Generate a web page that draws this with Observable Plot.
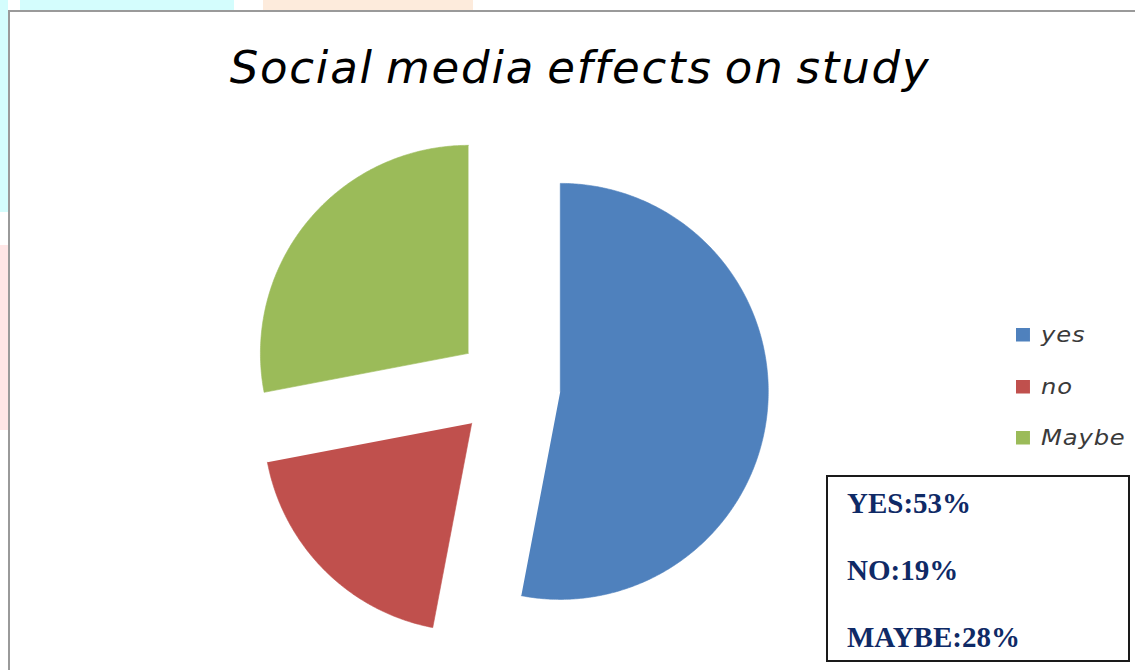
<!DOCTYPE html>
<html>
<head>
<meta charset="utf-8">
<script src="https://cdn.jsdelivr.net/npm/d3@7"></script>
<script src="https://cdn.jsdelivr.net/npm/@observablehq/plot@0.6"></script>
<style>
  html, body { margin: 0; padding: 0; background: #fff; }
  #page { position: relative; width: 1135px; height: 670px; overflow: hidden; background: #fff; }
  .bg { position: absolute; }
  #frame { position: absolute; left: 8px; top: 10px; width: 1140px; height: 680px;
           border-top: 2px solid #9a9a9a; border-left: 2px solid #9a9a9a; }
  #title { position: absolute; left: 25px; top: 45px; width: 1110px; text-align: center;
           font-family: "DejaVu Sans", sans-serif; font-style: italic; font-size: 45px;
           line-height: 45px; letter-spacing: 1.8px; word-spacing: -4px; color: #000; white-space: nowrap; }
  #chart { position: absolute; left: 0; top: 120px; }
  #chart svg { background: transparent !important; }
  #legend { position: absolute; left: 1016px; top: 309px; transform: scaleX(1.1); transform-origin: 0 0; }
  #legend .lg-swatches-wrap, #legend > div { display: flex !important; flex-direction: column !important;
           align-items: flex-start !important; margin: 0 !important; min-height: 0 !important; }
  #legend .lg-swatch { display: flex !important; align-items: center !important; height: 51.5px;
           margin: 0 !important; font-family: "DejaVu Sans", sans-serif !important; font-style: italic !important;
           font-size: 22px !important; letter-spacing: 0.8px !important; color: #3a3a3a !important; white-space: nowrap; }
  #legend .lg-swatch svg { margin-right: 10px !important; }
  #box { position: absolute; left: 826px; top: 475px; width: 300px; height: 183px;
         border: 2px solid #1a1a1a; background: #fff; }
  .bl { position: absolute; left: 19px; font-family: "Liberation Serif", "Times New Roman", serif;
        font-weight: bold; font-size: 29px; line-height: 29px; color: #0f2a66; white-space: nowrap; }
</style>
</head>
<body>
<div id="page">
  <div class="bg" style="left:20px;top:0;width:214px;height:10px;background:#d4fdfd;"></div>
  <div class="bg" style="left:0;top:0;width:8px;height:212px;background:#d4fdfd;"></div>
  <div class="bg" style="left:263px;top:0;width:210px;height:10px;background:#fdebdc;"></div>
  <div class="bg" style="left:0;top:245px;width:8px;height:185px;background:#ffe6e6;"></div>
  <div id="frame"></div>
  <div id="title"></div>
  <div id="chart"></div>
  <div id="legend"></div>
  <div id="box"></div>
</div>
<script>
// ---- data ----
const title = "Social media effects on study";
const categories = ["yes", "no", "Maybe"];
const values = [53, 19, 28];
const colors = ["#4F81BD", "#C0504D", "#9BBB59"];
const boxLabels = ["YES", "NO", "MAYBE"];
const explode = 0.25; // fraction of radius

document.getElementById("title").textContent = title;

// ---- build slice polygons from the values ----
const total = d3.sum(values);
const pts = [];
let a0 = 0;
categories.forEach((c, i) => {
  const a1 = a0 + values[i] / total * 2 * Math.PI;
  const mid = (a0 + a1) / 2;
  const ox = explode * Math.sin(mid), oy = explode * Math.cos(mid);
  pts.push({key: c, x: ox, y: oy});
  const n = Math.max(2, Math.ceil((a1 - a0) / (Math.PI / 360)));
  for (let k = 0; k <= n; k++) {
    const a = a0 + (a1 - a0) * k / n;
    pts.push({key: c, x: ox + Math.sin(a), y: oy + Math.cos(a)});
  }
  a0 = a1;
});

const chart = Plot.plot({
  width: 1135,
  height: 550,
  margin: 0,
  style: {background: "transparent"},
  x: {domain: [-1, 1], range: [300, 716], axis: null},
  y: {domain: [-1, 1], range: [474, 58], axis: null},
  color: {domain: categories, range: colors},
  marks: [
    Plot.line(pts, {x: "x", y: "y", z: "key", fill: "key", stroke: "key", strokeWidth: 0.6, curve: "linear"})
  ]
});
document.getElementById("chart").appendChild(chart);

const legend = Plot.legend({
  color: {domain: categories, range: colors},
  legend: "swatches",
  swatchWidth: 12.7,
  swatchHeight: 13.5,
  className: "lg"
});
document.getElementById("legend").appendChild(legend);

const box = document.getElementById("box");
boxLabels.forEach((lab, i) => {
  const d = document.createElement("div");
  d.className = "bl";
  d.style.top = (12 + 67 * i) + "px";
  d.textContent = lab + ":" + values[i] + "%";
  box.appendChild(d);
});
</script>
</body>
</html>
